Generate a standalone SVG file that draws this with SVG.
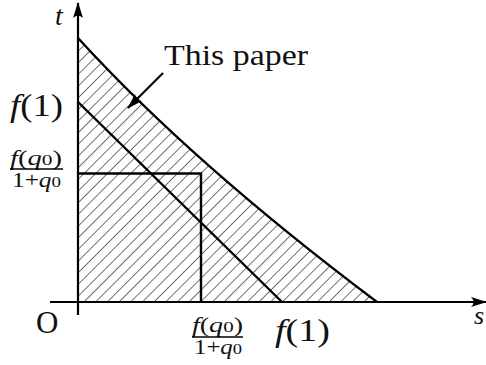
<svg xmlns="http://www.w3.org/2000/svg" width="486" height="365" viewBox="0 0 486 365">
<defs>
<pattern id="hatch" patternUnits="userSpaceOnUse" width="8.25" height="8.25" patternTransform="translate(385.3,0) rotate(45)">
<line x1="0" y1="-1" x2="0" y2="10" stroke="#000" stroke-width="1.1"/>
</pattern>
<marker id="ah" viewBox="0 0 16 10" refX="15" refY="5" markerWidth="16" markerHeight="10" markerUnits="userSpaceOnUse" orient="auto">
<path d="M0,0 Q5,5 0,10 L16,5 Z" fill="#000"/>
</marker>
</defs>
<style>
.ln{stroke:#000;stroke-width:2.4;fill:none}
.ax{stroke:#000;stroke-width:2.2;fill:none}
.it{font-style:italic}
text{font-family:"Times New Roman","Liberation Serif","DejaVu Serif","Noto Serif",Times,serif}
</style>
<g id="region">
<path d="M78,38 Q192,163 377,302 L78,302 Z" fill="url(#hatch)" stroke="none"/>
</g>
<g id="connectors">
<line class="ax" x1="78" y1="315" x2="78" y2="3" marker-end="url(#ah)"/>
<line class="ax" x1="50" y1="302" x2="486" y2="302" marker-end="url(#ah)"/>
<path class="ln" d="M78,38 Q192,163 377,302"/>
<line class="ln" x1="78" y1="102" x2="282" y2="302"/>
<polyline class="ln" points="78,173.5 201,173.5 201,302"/>
<line stroke="#000" stroke-width="2.2" x1="163" y1="73" x2="128" y2="108" marker-end="url(#ah)"/>
</g>
<g id="labels" fill="#111">
<text class="it" x="55" y="25" font-size="28">t</text>
<text x="164" y="65" font-size="30" textLength="144" lengthAdjust="spacingAndGlyphs">This paper</text>
<text x="10" y="116" font-size="32" textLength="53" lengthAdjust="spacingAndGlyphs"><tspan class="it">f</tspan>(1)</text>
<g id="frac-left">
<text x="10" y="165" font-size="20" textLength="52" lengthAdjust="spacingAndGlyphs"><tspan class="it">f</tspan>(<tspan class="it">q</tspan><tspan font-size="15">0</tspan>)</text>
<line x1="10" y1="169" x2="63" y2="169" stroke="#000" stroke-width="1.4"/>
<text x="12" y="187" font-size="20" textLength="49" lengthAdjust="spacingAndGlyphs">1+<tspan class="it">q</tspan><tspan font-size="15">0</tspan></text>
</g>
<text x="36" y="333" font-size="31">O</text>
<g id="frac-bottom">
<text x="192" y="332" font-size="20" textLength="51" lengthAdjust="spacingAndGlyphs"><tspan class="it">f</tspan>(<tspan class="it">q</tspan><tspan font-size="15">0</tspan>)</text>
<line x1="192" y1="337" x2="243" y2="337" stroke="#000" stroke-width="1.4"/>
<text x="194" y="354" font-size="20" textLength="48" lengthAdjust="spacingAndGlyphs">1+<tspan class="it">q</tspan><tspan font-size="15">0</tspan></text>
</g>
<text x="275" y="341" font-size="32" textLength="55" lengthAdjust="spacingAndGlyphs"><tspan class="it">f</tspan>(1)</text>
<text class="it" x="474" y="324" font-size="26">s</text>
</g>
</svg>
